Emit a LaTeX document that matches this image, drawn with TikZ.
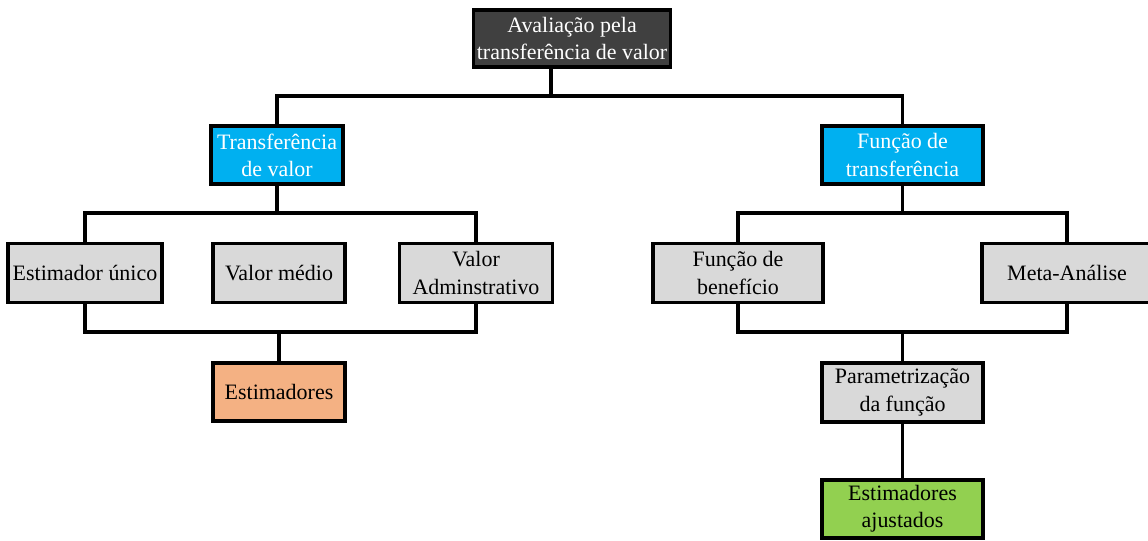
\documentclass[tikz,border=0pt]{standalone}
\usepackage{fontspec}
\setmainfont{Liberation Serif}
\newfontfamily\boxfont{Liberation Serif}
\usepackage{xcolor}
\usepackage{tikz}
\usetikzlibrary{positioning}
\definecolor{mydark}{RGB}{64,64,64}
\definecolor{mycyan}{RGB}{0,176,240}
\definecolor{mygray}{RGB}{217,217,217}
\definecolor{myorange}{RGB}{244,177,131}
\definecolor{mygreen}{RGB}{146,208,80}

\begin{document}
\begin{tikzpicture}[
    box/.style={draw=black, line width=2pt, minimum height=1.16cm,
        align=center, inner sep=2pt,
        font=\boxfont\fontsize{12.5}{15.5}\selectfont},
    link/.style={line width=2pt, black}
]
\useasboundingbox (0,0) rectangle (22.96,-10.8);
\node[box, fill=mydark, text=white, minimum width=3.92cm, minimum height=1.14cm] (top) at (11.44,-0.77)
    {Avaliação pela\\transferência de valor};
\node[box, fill=mycyan, text=white, minimum width=2.64cm] (tv) at (5.54,-3.10)
    {Transferência\\de valor};
\node[box, fill=mycyan, text=white, minimum width=3.22cm] (ft) at (18.05,-3.10)
    {Função de\\transferência};
\node[box, fill=mygray, minimum width=3.08cm, minimum height=1.18cm] (eu) at (1.70,-5.46)
    {Estimador único};
\node[box, fill=mygray, minimum width=2.64cm, minimum height=1.18cm] (vm) at (5.58,-5.46)
    {Valor médio};
\node[box, fill=mygray, minimum width=3.06cm, minimum height=1.18cm] (va) at (9.52,-5.46)
    {Valor\\Adminstrativo};
\node[box, fill=mygray, minimum width=3.40cm, minimum height=1.18cm] (fb) at (14.76,-5.46)
    {Função de\\benefício};
\node[box, fill=mygray, minimum width=3.40cm, minimum height=1.18cm] (ma) at (21.34,-5.46)
    {Meta-Análise};
\node[box, fill=myorange, minimum width=2.64cm] (est) at (5.58,-7.84)
    {Estimadores};
\node[box, fill=mygray, minimum width=3.22cm, minimum height=1.18cm] (par) at (18.05,-7.85)
    {Parametrização\\da função};
\node[box, fill=mygreen, minimum width=3.22cm] (adj) at (18.05,-10.18)
    {Estimadores\\ajustados};
% barramentos
\coordinate (b1) at (11.02,-1.92);
\coordinate (b2) at (5.54,-4.26);
\coordinate (b3) at (18.05,-4.26);
\coordinate (b4) at (5.58,-6.64);
\coordinate (b5) at (18.05,-6.64);
\draw[link] (b1) -- (b1 |- top.south); \draw[link] (tv.north) |- (b1) -| (ft.north);
\draw[link] (tv.south) -- (b2); \draw[link] (eu.north) |- (b2) -| (va.north);
\draw[link] (ft.south) -- (b3); \draw[link] (fb.north) |- (b3) -| (ma.north);
\draw[link] (eu.south) |- (b4) -| (va.south); \draw[link] (b4) -- (est.north);
\draw[link] (fb.south) |- (b5) -| (ma.south); \draw[link] (b5) -- (par.north);
\draw[link] (par.south) -- (adj.north);
\end{tikzpicture}
\end{document}
